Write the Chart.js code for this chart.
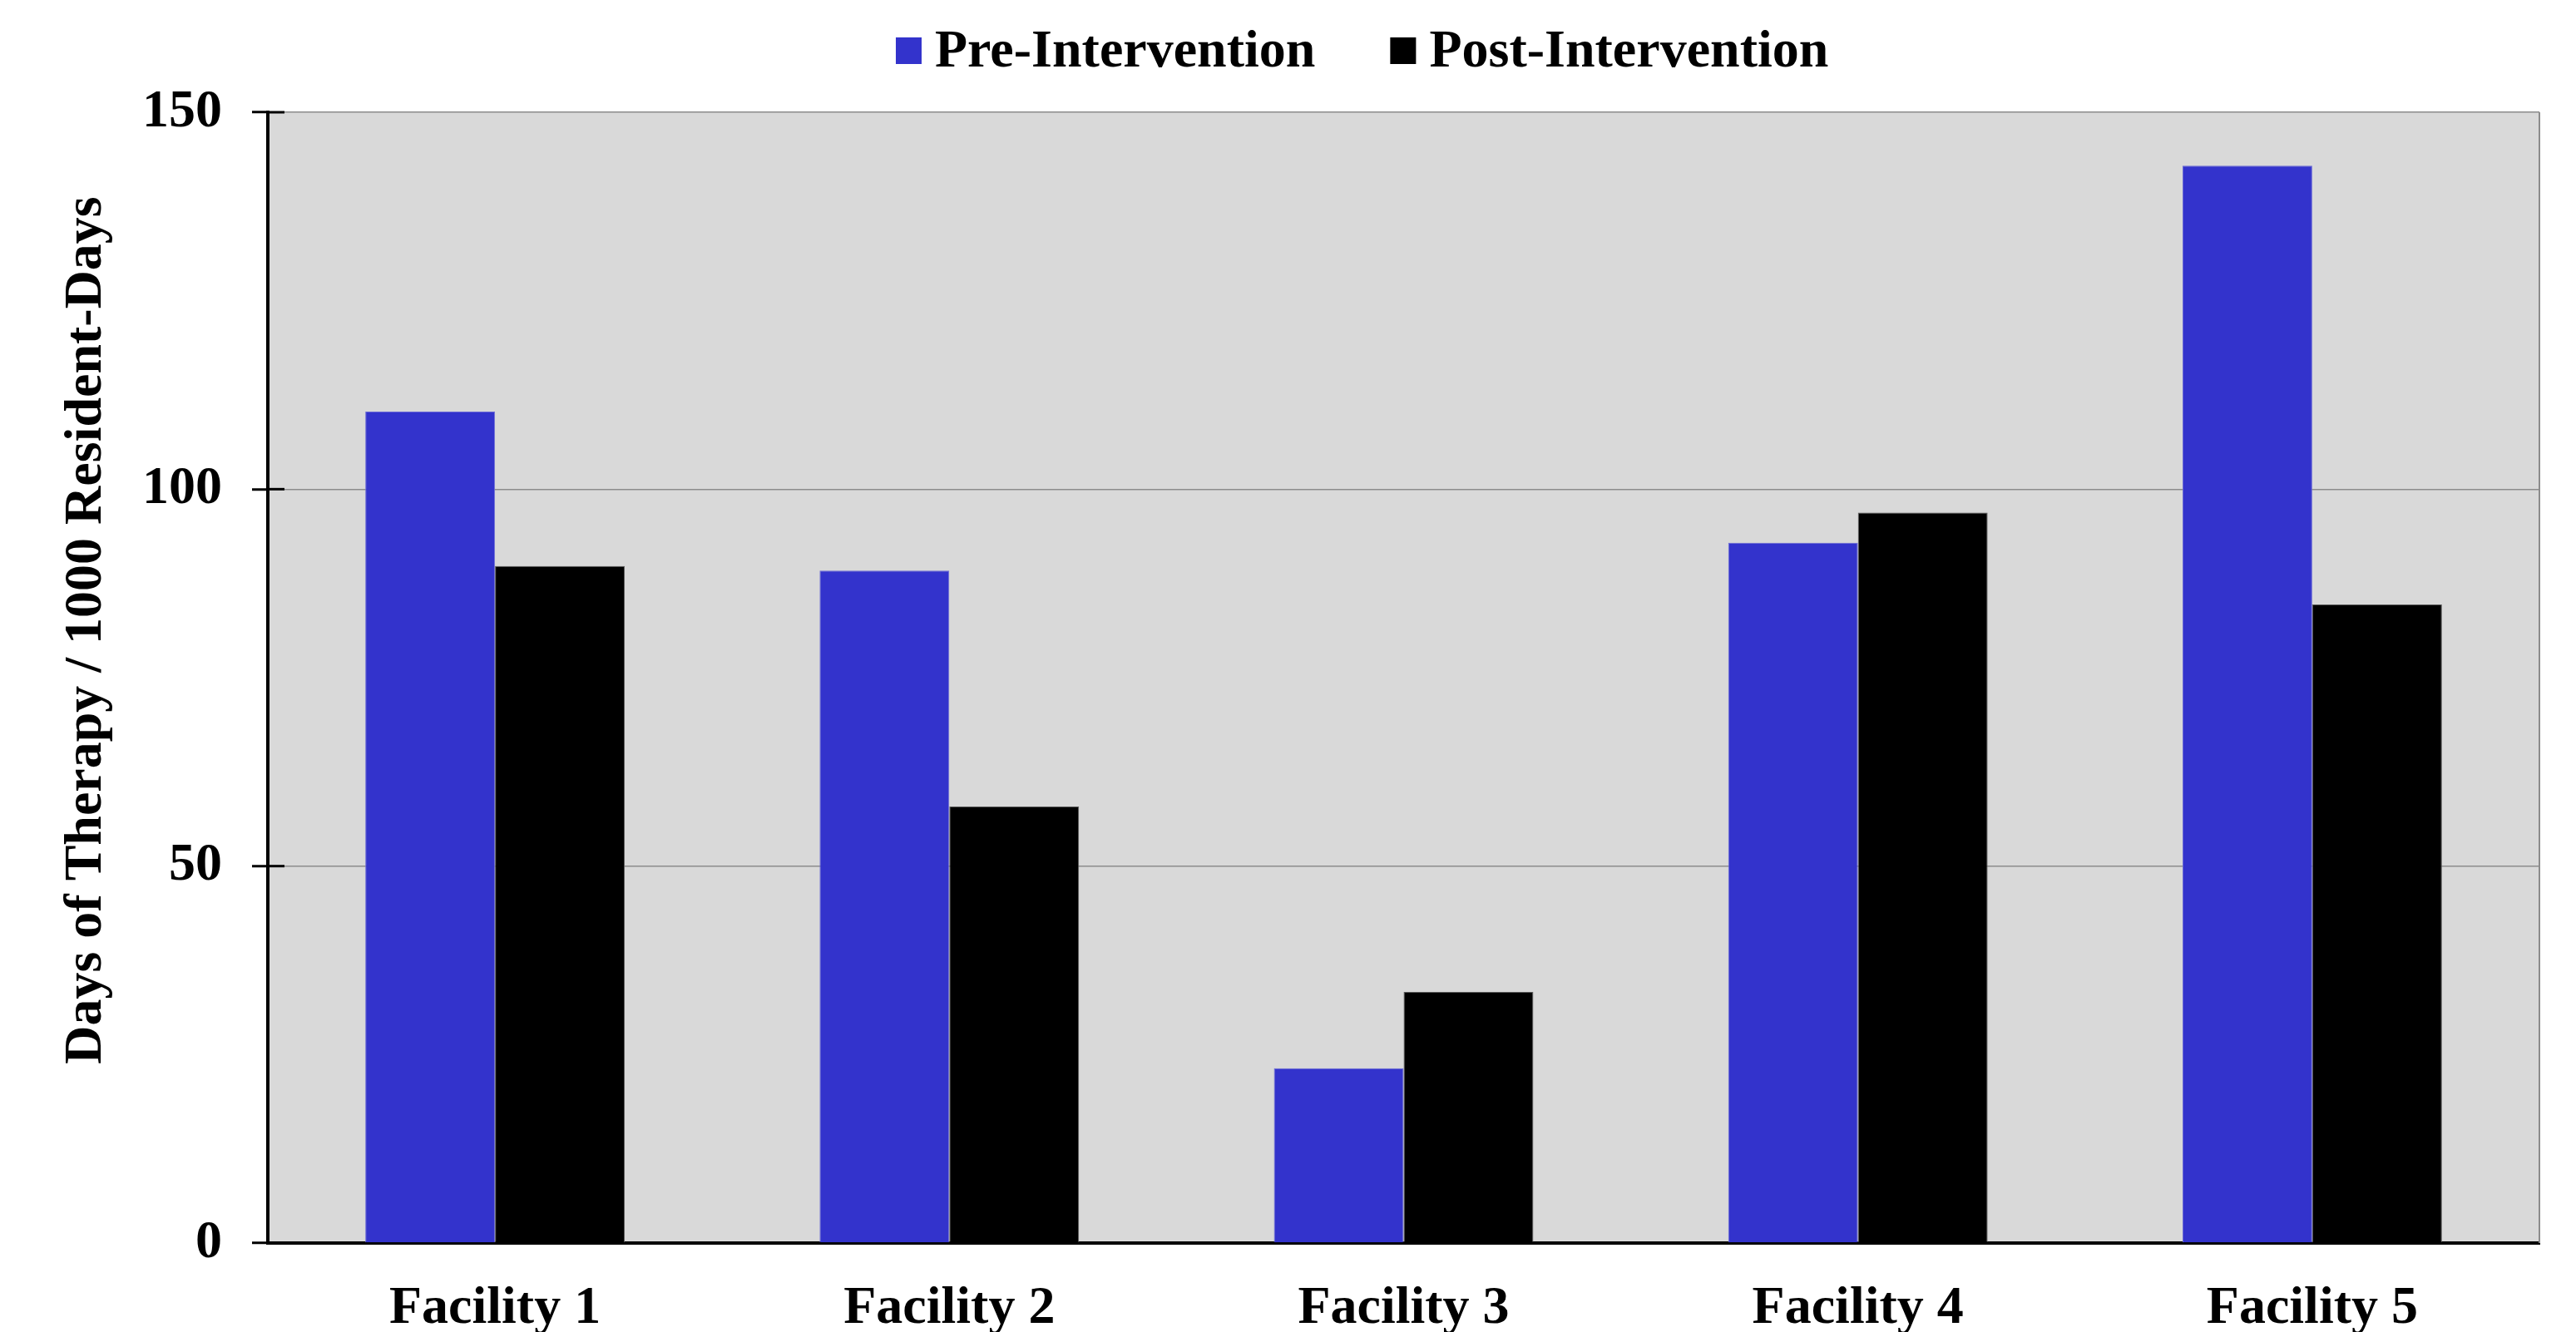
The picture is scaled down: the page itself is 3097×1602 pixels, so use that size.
<!DOCTYPE html>
<html>
<head>
<meta charset="utf-8">
<title>Days of Therapy by Facility</title>
<script src="https://cdn.jsdelivr.net/npm/chart.js@4"></script>
<style>
  html, body { margin: 0; padding: 0; background: #fff; }
  canvas { display: block; }
</style>
</head>
<body>
<canvas id="dotChart" width="3097" height="1602"></canvas>
<script>
const facilities = ['Facility 1', 'Facility 2', 'Facility 3', 'Facility 4', 'Facility 5'];
const preIntervention = [110.3, 89.2, 23.2, 92.9, 142.9];
const postIntervention = [89.8, 57.9, 33.3, 96.9, 84.7];
const yTicks = [0, 50, 100, 150];
const yTitle = 'Days of Therapy / 1000 Resident-Days';

const FONT = '"Liberation Serif", "Times New Roman", serif';
const labelFont = { family: FONT, size: 64, weight: 'bold' };

// grey plot panel under the bars, grey right edge and ticks crossing the value axis
const plotPanel = {
    id: 'plotPanel',
    beforeDraw(chart) {
        const { ctx, chartArea: a } = chart;
        ctx.save();
        ctx.fillStyle = '#d9d9d9';
        ctx.fillRect(a.left, a.top, a.right - a.left, a.bottom - a.top);
        ctx.restore();
    },
    afterDraw(chart) {
        const { ctx, chartArea: a, scales: { y } } = chart;
        ctx.save();
        ctx.strokeStyle = '#8c8c8c';
        ctx.lineWidth = 2;
        ctx.beginPath();
        ctx.moveTo(a.right, a.top);
        ctx.lineTo(a.right, a.bottom);
        ctx.stroke();
        ctx.strokeStyle = '#000';
        ctx.lineWidth = 3;
        yTicks.forEach(v => {
            const py = y.getPixelForValue(v);
            ctx.beginPath();
            ctx.moveTo(a.left, py);
            ctx.lineTo(a.left + 20, py);
            ctx.stroke();
        });
        ctx.restore();
    }
};

// legend row above the plot and the rotated value-axis title
const headerAndTitle = {
    id: 'headerAndTitle',
    afterDraw(chart) {
        const { ctx } = chart;
        ctx.save();
        ctx.font = `bold ${labelFont.size}px ${FONT}`;
        ctx.textBaseline = 'alphabetic';
        let x = 1077;
        chart.data.datasets.forEach(ds => {
            ctx.fillStyle = ds.backgroundColor;
            ctx.fillRect(x, 45, 31, 32);
            ctx.fillStyle = '#000';
            ctx.fillText(ds.label, x + 47, 80);
            x += 47 + ctx.measureText(ds.label).width + 90;
        });
        ctx.translate(121, 758);
        ctx.rotate(-Math.PI / 2);
        ctx.textAlign = 'center';
        ctx.fillStyle = '#000';
        ctx.fillText(yTitle, 0, 0);
        ctx.restore();
    }
};

new Chart(document.getElementById('dotChart'), {
    type: 'bar',
    data: {
        labels: facilities,
        datasets: [
            {
                label: 'Pre-Intervention',
                data: preIntervention,
                backgroundColor: '#3333cc',
                borderColor: '#6b6bd6',
                borderWidth: 1
            },
            {
                label: 'Post-Intervention',
                data: postIntervention,
                backgroundColor: '#000000',
                borderColor: '#5a5a5a',
                borderWidth: 1
            }
        ]
    },
    options: {
        responsive: false,
        animation: false,
        devicePixelRatio: 1,
        layout: { padding: { top: 135, right: 44, bottom: 0, left: 0 } },
        datasets: { bar: { categoryPercentage: 0.571, barPercentage: 1.0 } },
        plugins: {
            legend: { display: false },
            tooltip: { enabled: false }
        },
        scales: {
            x: {
                grid: { display: false },
                border: { color: '#000', width: 4 },
                ticks: { color: '#000', font: labelFont, padding: 33, maxRotation: 0, autoSkip: false },
                afterFit(scale) { scale.height = 107; }
            },
            y: {
                min: 0,
                max: 150,
                afterBuildTicks(scale) { scale.ticks = yTicks.map(v => ({ value: v })); },
                grid: { color: '#8c8c8c', lineWidth: 1.5, tickColor: '#000', tickWidth: 3, tickLength: 19 },
                border: { color: '#000', width: 4 },
                ticks: { color: '#000', font: labelFont, padding: 36 },
                afterFit(scale) { scale.width = 322; }
            }
        }
    },
    plugins: [plotPanel, headerAndTitle]
});
</script>
</body>
</html>
